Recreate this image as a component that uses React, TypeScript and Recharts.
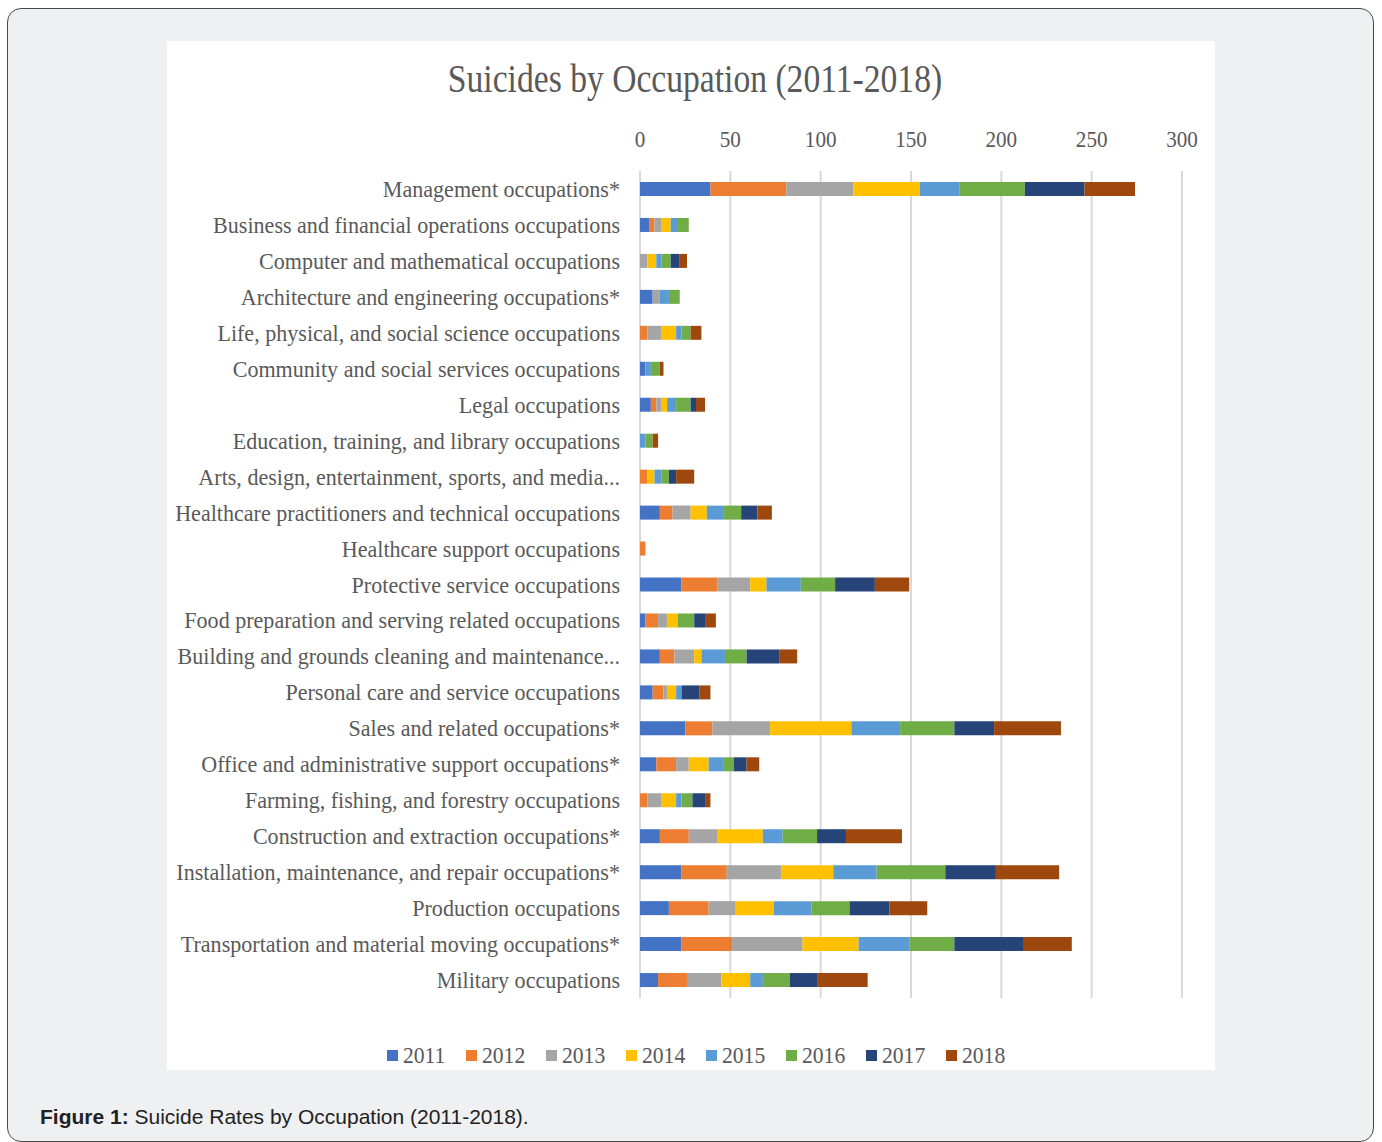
import { BarChart, Bar, XAxis, YAxis, CartesianGrid, Legend } from "recharts";

const occupations = [
  "Management occupations*",
  "Business and financial operations occupations",
  "Computer and mathematical occupations",
  "Architecture and engineering occupations*",
  "Life, physical, and social science occupations",
  "Community and social services occupations",
  "Legal occupations",
  "Education, training, and library occupations",
  "Arts, design, entertainment, sports, and media...",
  "Healthcare practitioners and technical occupations",
  "Healthcare support occupations",
  "Protective service occupations",
  "Food preparation and serving related occupations",
  "Building and grounds cleaning and maintenance...",
  "Personal care and service occupations",
  "Sales and related occupations*",
  "Office and administrative support occupations*",
  "Farming, fishing, and forestry occupations",
  "Construction and extraction occupations*",
  "Installation, maintenance, and repair occupations*",
  "Production occupations",
  "Transportation and material moving occupations*",
  "Military occupations",
];

const years = ["2011", "2012", "2013", "2014", "2015", "2016", "2017", "2018"];

const v2011 = [39, 5, 0, 7, 0, 3, 6, 0, 0, 11, 0, 23, 3, 11, 7, 25, 9, 0, 11, 23, 16, 23, 10];
const v2012 = [42, 3, 0, 0, 4, 0, 3, 0, 4, 7, 3, 20, 7, 8, 6, 15, 11, 4, 16, 25, 22, 28, 16];
const v2013 = [37, 4, 4, 4, 8, 0, 3, 0, 0, 10, 0, 18, 5, 11, 2, 32, 7, 8, 16, 30, 15, 39, 19];
const v2014 = [37, 5, 5, 0, 8, 0, 3, 0, 4, 9, 0, 9, 6, 4, 5, 45, 11, 8, 25, 29, 21, 31, 16];
const v2015 = [22, 4, 3, 5, 3, 3, 5, 3, 4, 9, 0, 19, 0, 13, 3, 27, 8, 3, 11, 24, 21, 28, 7];
const v2016 = [36, 6, 5, 6, 5, 5, 8, 4, 4, 10, 0, 19, 9, 12, 0, 30, 6, 6, 19, 38, 21, 25, 15];
const v2017 = [33, 0, 5, 0, 0, 0, 3, 0, 4, 9, 0, 22, 6, 18, 10, 22, 7, 7, 16, 28, 22, 38, 15];
const v2018 = [28, 0, 4, 0, 6, 2, 5, 3, 10, 8, 0, 19, 6, 10, 6, 37, 7, 3, 31, 35, 21, 27, 28];

const seriesValues = [v2011, v2012, v2013, v2014, v2015, v2016, v2017, v2018];
const colors = ["#4472C4", "#ED7D31", "#A5A5A5", "#FFC000", "#5B9BD5", "#70AD47", "#264478", "#9E480E"];
const xTicks = [0, 50, 100, 150, 200, 250, 300];

const data = occupations.map((name, i) => {
  const row: Record<string, string | number> = { name };
  years.forEach((y, k) => {
    row[y] = seriesValues[k][i];
  });
  return row;
});

const serif = "'Liberation Serif', 'Times New Roman', serif";

// narrow serif look of the original (Cambria squeezed)
function NarrowTick(props: any) {
  const { x, y, payload, anchor, dy, sx } = props;
  return (
    <g transform={`translate(${x},${y}) scale(${sx},1)`}>
      <text textAnchor={anchor} dy={dy} fontFamily={serif} fontSize={24} fill="#595959">
        {payload.value}
      </text>
    </g>
  );
}

function YearLegend() {
  return (
    <div style={{ display: "flex", justifyContent: "center", gap: 16, fontFamily: serif, fontSize: 24, color: "#595959", paddingLeft: 48 }}>
      {years.map((y, k) => (
        <span key={y} style={{ display: "flex", alignItems: "center" }}>
          <span style={{ width: 11, height: 11, background: colors[k], marginRight: 5, display: "inline-block" }} />
          <span style={{ display: "inline-block", transform: "scaleX(0.9)", transformOrigin: "left center" }}>{y}</span>
        </span>
      ))}
    </div>
  );
}

export default function App() {
  return (
    <div style={{ position: "absolute", left: 0, top: 0, width: 1382, height: 1142, background: "#fff", overflow: "hidden" }}>
      <div
        style={{
          position: "absolute",
          left: 7,
          top: 8,
          width: 1365,
          height: 1132,
          border: "1px solid #4a4a4a",
          borderRadius: 14,
          background: "#eff0f2",
        }}
      />
      <div style={{ position: "absolute", left: 167, top: 41, width: 1048, height: 1029, background: "#fff" }}>
        <div
          style={{
            position: "absolute",
            top: 14,
            left: 0,
            width: 1056,
            textAlign: "center",
            fontFamily: serif,
            fontSize: 40,
            color: "#595959",
            transform: "scaleX(0.84)",
          }}
        >
          Suicides by Occupation (2011-2018)
        </div>
        <BarChart
          width={1048}
          height={1029}
          data={data}
          layout="vertical"
          margin={{ top: 100, right: 33, bottom: 45, left: 0 }}
          barCategoryGap={0}
        >
          <CartesianGrid horizontal={false} stroke="#d9d9d9" strokeWidth={2} />
          <XAxis
            type="number"
            orientation="top"
            domain={[0, 300]}
            ticks={xTicks}
            axisLine={false}
            tickLine={false}
            tickSize={0}
            tickMargin={24}
            height={30}
            tick={<NarrowTick anchor="middle" dy={0} sx={0.88} />}
          />
          <YAxis
            type="category"
            dataKey="name"
            width={473}
            axisLine={false}
            tickLine={false}
            tickSize={0}
            tickMargin={20}
            interval={0}
            tick={<NarrowTick anchor="end" dy={8} sx={0.92} />}
          />
          <Legend verticalAlign="bottom" content={() => <YearLegend />} wrapperStyle={{ bottom: 1 }} />
          {years.map((y, k) => (
            <Bar key={y} dataKey={y} stackId="a" fill={colors[k]} barSize={14} isAnimationActive={false} />
          ))}
        </BarChart>
      </div>
      <div style={{ position: "absolute", left: 40, top: 1105, fontFamily: "'Liberation Sans', Arial, sans-serif", fontSize: 21, color: "#222" }}>
        <b>Figure 1:</b> Suicide Rates by Occupation (2011-2018).
      </div>
    </div>
  );
}
